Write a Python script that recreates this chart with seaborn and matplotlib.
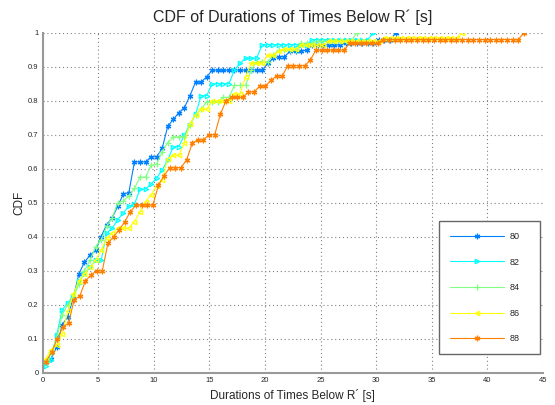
import numpy as np
import pandas as pd
import matplotlib
matplotlib.use("Agg")
import matplotlib.pyplot as plt
import seaborn as sns

labels = ["80", "82", "84", "86", "88"]
colors = [(0, 0.5, 1), (0, 1, 1), (0.5, 1, 0.5), (1, 1, 0), (1, 0.5, 0)]
# (6, 2, 0) is an asterisk, like the matlab '*'
markers = [(6, 2, 0), ">", "+", "<", (6, 2, 0)]

# first and last sample of each curve, samples are evenly spaced in between
x_start = [0.25, 0.25, 0.25, 0.25, 0.3]
x_end = [31.75, 29.75, 28.25, 37.75, 43.3]

cdf_80 = [0.03, 0.04, 0.075, 0.14, 0.165, 0.22, 0.29, 0.325, 0.345, 0.36,
          0.40, 0.435, 0.455, 0.49, 0.525, 0.53, 0.62, 0.62, 0.62, 0.635,
          0.635, 0.66, 0.725, 0.745, 0.765, 0.78, 0.815, 0.855, 0.855, 0.87,
          0.89, 0.89, 0.89, 0.89, 0.89, 0.89, 0.89, 0.89, 0.89, 0.89,
          0.91, 0.925, 0.93, 0.93, 0.945, 0.945, 0.945, 0.95,
          0.964, 0.964, 0.964, 0.964, 0.964, 0.964,
          0.97, 0.97, 0.97, 0.97, 0.97, 0.97,
          0.978, 0.978, 0.978, 1.0]

cdf_82 = [0.02, 0.037, 0.11, 0.185, 0.205, 0.225, 0.27, 0.29, 0.31, 0.33,
          0.33, 0.41, 0.425, 0.45, 0.47, 0.49, 0.495, 0.54, 0.54, 0.555,
          0.572, 0.596, 0.626, 0.665, 0.665, 0.70, 0.73, 0.76, 0.815, 0.815,
          0.85, 0.85, 0.85, 0.85, 0.89, 0.91, 0.925, 0.925, 0.925, 0.965,
          0.965, 0.965, 0.965, 0.965, 0.965, 0.965, 0.965, 0.965,
          0.98, 0.98, 0.98, 0.98, 0.98, 0.98, 0.98, 0.98, 0.98, 0.98, 0.98,
          1.0]

cdf_84 = [0.03, 0.06, 0.10, 0.17, 0.20, 0.22, 0.26, 0.30, 0.33, 0.37,
          0.39, 0.43, 0.455, 0.50, 0.505, 0.52, 0.542, 0.575, 0.575, 0.61,
          0.614, 0.65, 0.677, 0.694, 0.694, 0.694, 0.73, 0.758, 0.775, 0.797,
          0.797, 0.797, 0.81, 0.81, 0.845, 0.845, 0.845, 0.89, 0.915, 0.915,
          0.915, 0.935, 0.949, 0.949, 0.949, 0.949, 0.969, 0.969, 0.969,
          0.975, 0.975, 0.975, 0.975, 0.975, 0.975, 0.975, 1.0]

cdf_86 = [0.04, 0.067, 0.08, 0.115, 0.18, 0.23, 0.27, 0.29, 0.31, 0.33,
          0.36, 0.395, 0.41, 0.425, 0.425, 0.425, 0.444, 0.474, 0.503, 0.523,
          0.55, 0.567, 0.63, 0.64, 0.64, 0.675, 0.733, 0.758, 0.775, 0.775,
          0.80, 0.80, 0.80, 0.80, 0.82, 0.82, 0.87, 0.91, 0.91, 0.91,
          0.934, 0.934, 0.945, 0.952, 0.952, 0.952, 0.964, 0.964, 0.964, 0.964,
          0.964, 0.975, 0.975, 0.975, 0.975, 0.975, 0.975, 0.975, 0.975, 0.975,
          0.975, 0.985, 0.985, 0.985, 0.985, 0.985, 0.985, 0.985, 0.985, 0.985,
          0.985, 0.985, 0.985, 0.985, 0.985, 1.0]

cdf_88 = [0.032, 0.06, 0.10, 0.135, 0.145, 0.215, 0.225, 0.27, 0.287, 0.30,
          0.30, 0.38, 0.40, 0.42, 0.444, 0.474, 0.493, 0.493, 0.493, 0.493,
          0.552, 0.58, 0.603, 0.603, 0.603, 0.626, 0.675, 0.685, 0.685, 0.70,
          0.70, 0.76, 0.80, 0.81, 0.81, 0.81, 0.826, 0.826, 0.843, 0.843,
          0.86, 0.873, 0.873, 0.903, 0.903, 0.903, 0.903, 0.92,
          0.949, 0.949, 0.949, 0.949, 0.949, 0.949,
          0.969, 0.969, 0.969, 0.969, 0.969, 0.969,
          0.98, 0.98, 0.98, 0.98, 0.98, 0.98, 0.98, 0.98, 0.98, 0.98,
          0.98, 0.98, 0.98, 0.98, 0.98, 0.98, 0.98, 0.98, 0.98, 0.98,
          0.98, 0.98, 0.98, 0.98, 0.98, 1.0]

all_cdfs = [cdf_80, cdf_82, cdf_84, cdf_86, cdf_88]

sns.set_style("white")
plt.rcParams["font.family"] = ["Liberation Sans", "DejaVu Sans"]

fig = plt.figure(figsize=(5.55, 4.05), dpi=100)
ax = fig.add_axes([0.077, 0.080, 0.901, 0.839])

for lab, col, mk, x0, x1, yv in zip(labels, colors, markers, x_start, x_end, all_cdfs):
    df = pd.DataFrame({"x": np.linspace(x0, x1, len(yv)), "cdf": yv})
    open_marker = mk in ("<", ">")
    sns.lineplot(data=df, x="x", y="cdf", ax=ax, color=col, marker=mk,
                 markersize=3.2 if open_marker else 4,
                 mfc="none" if open_marker else col, mec=col, mew=0.9,
                 lw=0.8, sort=False, label=lab)

ax.set_xlim(0, 45)
ax.set_ylim(0, 1)
ax.set_xticks(np.arange(0, 46, 5))
ax.set_yticks(np.arange(0, 1.01, 0.1))
ax.set_yticklabels(["0", "0.1", "0.2", "0.3", "0.4", "0.5", "0.6", "0.7", "0.8", "0.9", "1"])
ax.tick_params(axis="both", labelsize=5.5, direction="in", length=3,
               color="0.4", pad=3)
ax.grid(True, linestyle=(0, (1, 2.5)), color="0.5", lw=0.8)
for s in ["top", "right"]:
    ax.spines[s].set_visible(False)
for s in ["left", "bottom"]:
    ax.spines[s].set_color("0.6")
    ax.spines[s].set_linewidth(1.5)

ax.set_title("CDF of Durations of Times Below R\u00b4 [s]", fontsize=11.5, pad=8)
ax.set_xlabel("Durations of Times Below R\u00b4 [s]", fontsize=8.5, labelpad=4)
ax.set_ylabel("CDF", fontsize=8.5, labelpad=2)

leg = ax.legend(loc="lower left", bbox_to_anchor=(0.792, 0.054, 0.202, 0.39),
                mode="expand", borderaxespad=0, fontsize=6.5, labelspacing=1.84,
                handlelength=6, handletextpad=0.6, borderpad=1.2,
                fancybox=False, framealpha=1, edgecolor="0.4")
leg.get_frame().set_linewidth(1.0)

fig.savefig("out.png", dpi=100)
